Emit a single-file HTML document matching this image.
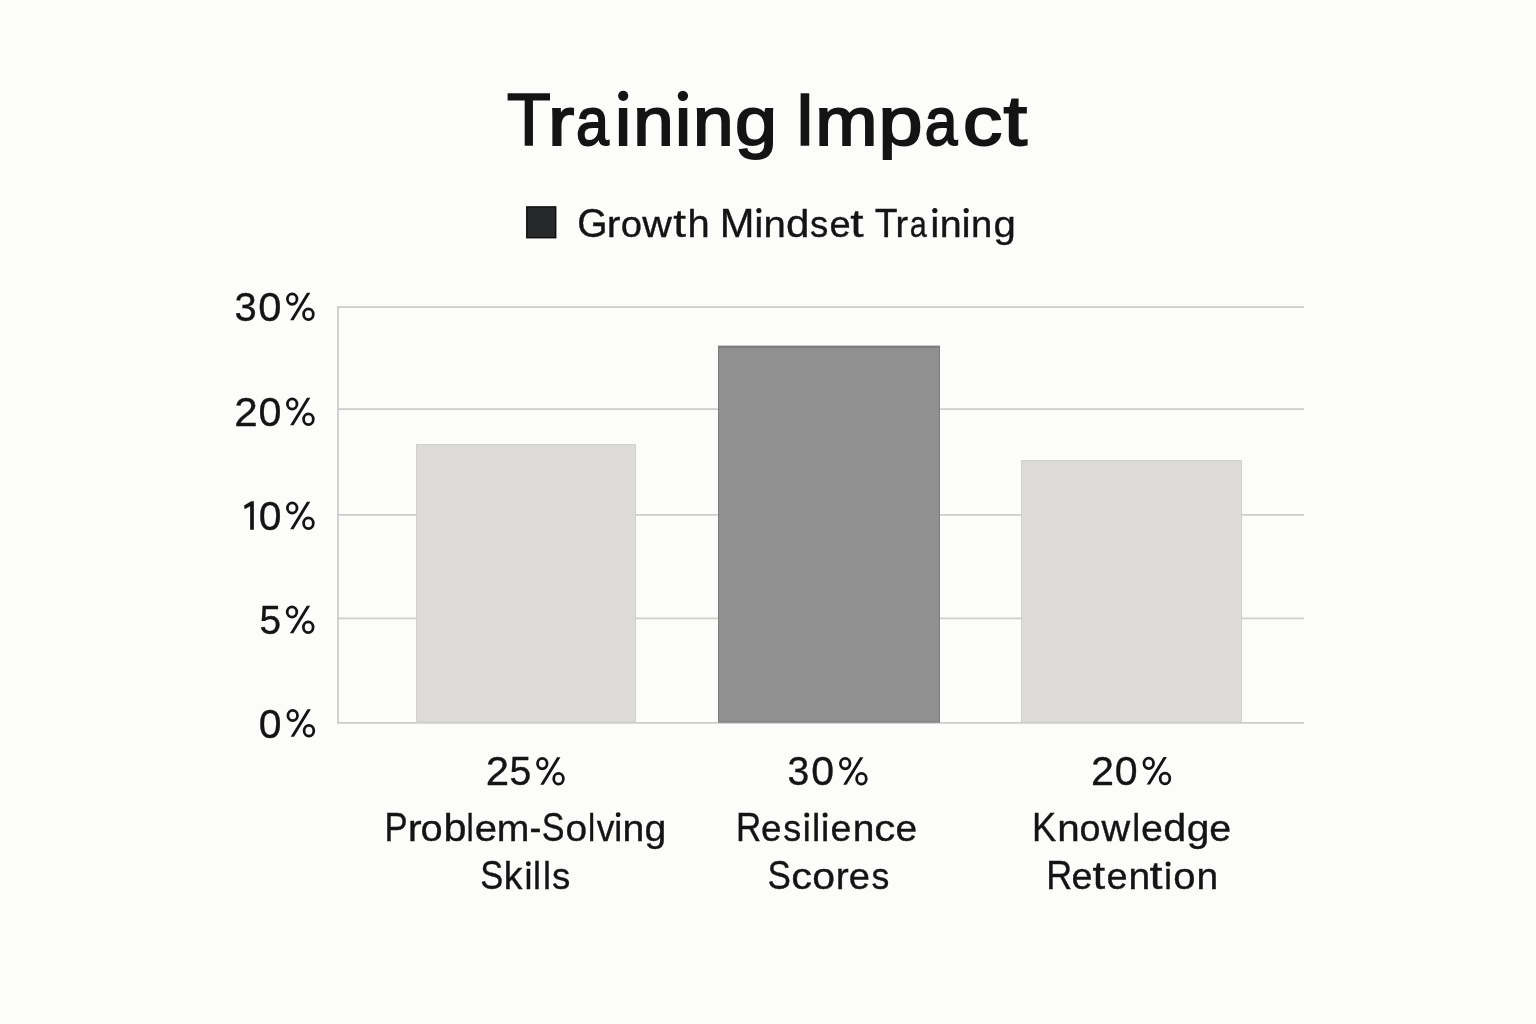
<!DOCTYPE html>
<html><head><meta charset="utf-8"><title>Training Impact</title>
<style>
html,body{margin:0;padding:0;background:#fcfcfa;}
body{width:1536px;height:1024px;overflow:hidden;}
svg{display:block;will-change:transform;}
text{font-family:"Liberation Sans",sans-serif;fill:#141414;}
</style></head><body>
<svg width="1536" height="1024" viewBox="0 0 1536 1024">
<rect x="0" y="0" width="1536" height="1024" fill="#fcfcfa"/>
<rect x="526.8" y="206.9" width="28.9" height="30.8" fill="#272829" stroke="#0b0b0b" stroke-width="1.4"/>
<g stroke="#cdcdcc" stroke-width="1.8">
<line x1="337" y1="307.2" x2="1304" y2="307.2"/>
<line x1="337" y1="409.05" x2="1304" y2="409.05"/>
<line x1="337" y1="514.95" x2="1304" y2="514.95"/>
<line x1="337" y1="618.4" x2="1304" y2="618.4"/>
<line x1="337" y1="722.95" x2="1304" y2="722.95"/>
<line x1="338" y1="306.3" x2="338" y2="723.85"/>
</g>
<rect x="416" y="444" width="220" height="278.2" fill="#dcdbda"/>
<rect x="416.5" y="444.5" width="219" height="277.2" fill="none" stroke="#d1d1d0" stroke-width="1"/>
<rect x="718" y="345.8" width="222" height="376.6" fill="#909090"/>
<rect x="718.5" y="346.5" width="221" height="375.5" fill="none" stroke="#7c7c7c" stroke-width="1"/>
<line x1="718" y1="346.8" x2="940" y2="346.8" stroke="#7b7b7b" stroke-width="2"/>
<rect x="1021" y="460" width="221" height="262.2" fill="#dcdbda"/>
<rect x="1021.5" y="460.5" width="220" height="261.2" fill="none" stroke="#d1d1d0" stroke-width="1"/>
<text x="506.68" y="144.90" font-size="74.4" stroke="#141414" stroke-width="1.6" textLength="44.18" lengthAdjust="spacingAndGlyphs">T</text>
<text x="548.12" y="144.90" font-size="67.8" stroke="#141414" stroke-width="1.9" textLength="26.24" lengthAdjust="spacingAndGlyphs">r</text>
<text x="576.04" y="144.90" font-size="67.8" stroke="#141414" stroke-width="1.9" textLength="32.91" lengthAdjust="spacingAndGlyphs">a</text>
<text x="613.05" y="144.90" font-size="67.8" stroke="#141414" stroke-width="1.9" textLength="20.23" lengthAdjust="spacingAndGlyphs">ı</text>
<text x="633.32" y="144.90" font-size="67.8" stroke="#141414" stroke-width="1.9" textLength="40.45" lengthAdjust="spacingAndGlyphs">n</text>
<text x="672.95" y="144.90" font-size="67.8" stroke="#141414" stroke-width="1.9" textLength="20.23" lengthAdjust="spacingAndGlyphs">ı</text>
<text x="693.10" y="144.90" font-size="67.8" stroke="#141414" stroke-width="1.9" textLength="40.59" lengthAdjust="spacingAndGlyphs">n</text>
<text x="734.98" y="144.90" font-size="67.8" stroke="#141414" stroke-width="1.9" textLength="42.05" lengthAdjust="spacingAndGlyphs">g</text>
<text x="794.47" y="144.90" font-size="74.4" stroke="#141414" stroke-width="1.6" textLength="20.85" lengthAdjust="spacingAndGlyphs">I</text>
<text x="815.18" y="144.90" font-size="67.8" stroke="#141414" stroke-width="1.9" textLength="62.30" lengthAdjust="spacingAndGlyphs">m</text>
<text x="878.55" y="144.90" font-size="67.8" stroke="#141414" stroke-width="1.9" textLength="44.03" lengthAdjust="spacingAndGlyphs">p</text>
<text x="924.71" y="144.90" font-size="67.8" stroke="#141414" stroke-width="1.9" textLength="32.64" lengthAdjust="spacingAndGlyphs">a</text>
<text x="962.92" y="144.90" font-size="67.8" stroke="#141414" stroke-width="1.9" textLength="39.20" lengthAdjust="spacingAndGlyphs">c</text>
<text x="1003.56" y="144.90" font-size="69.8" stroke="#141414" stroke-width="1.9" textLength="23.61" lengthAdjust="spacingAndGlyphs">t</text>
<circle cx="623.2" cy="95.85" r="5.1" fill="#141414"/>
<circle cx="682.9" cy="95.85" r="5.2" fill="#141414"/>
<text x="234.45" y="321.00" font-size="41.50" stroke="#141414" stroke-width="0.35" textLength="22.23" lengthAdjust="spacingAndGlyphs">3</text>
<text x="258.34" y="321.00" font-size="41.50" stroke="#141414" stroke-width="0.35" textLength="23.21" lengthAdjust="spacingAndGlyphs">0</text>
<text x="234.35" y="426.00" font-size="41.50" stroke="#141414" stroke-width="0.35" textLength="23.50" lengthAdjust="spacingAndGlyphs">2</text>
<text x="258.56" y="426.00" font-size="41.50" stroke="#141414" stroke-width="0.35" textLength="22.98" lengthAdjust="spacingAndGlyphs">0</text>
<text x="258.68" y="530.00" font-size="41.50" stroke="#141414" stroke-width="0.35" textLength="22.75" lengthAdjust="spacingAndGlyphs">0</text>
<text x="259.52" y="634.00" font-size="41.50" stroke="#141414" stroke-width="0.35" textLength="21.64" lengthAdjust="spacingAndGlyphs">5</text>
<text x="258.68" y="737.50" font-size="41.50" stroke="#141414" stroke-width="0.35" textLength="22.75" lengthAdjust="spacingAndGlyphs">0</text>
<text x="485.76" y="785.30" font-size="41.50" stroke="#141414" stroke-width="0.35" textLength="23.38" lengthAdjust="spacingAndGlyphs">2</text>
<text x="509.50" y="785.30" font-size="41.50" stroke="#141414" stroke-width="0.35" textLength="21.88" lengthAdjust="spacingAndGlyphs">5</text>
<text x="787.58" y="785.30" font-size="41.50" stroke="#141414" stroke-width="0.35" textLength="21.76" lengthAdjust="spacingAndGlyphs">3</text>
<text x="811.27" y="785.30" font-size="41.50" stroke="#141414" stroke-width="0.35" textLength="22.86" lengthAdjust="spacingAndGlyphs">0</text>
<text x="1090.99" y="785.30" font-size="41.50" stroke="#141414" stroke-width="0.35" textLength="23.01" lengthAdjust="spacingAndGlyphs">2</text>
<text x="1114.67" y="785.30" font-size="41.50" stroke="#141414" stroke-width="0.35" textLength="22.86" lengthAdjust="spacingAndGlyphs">0</text>
<text x="384.43" y="841.10" font-size="41.00" stroke="#141414" stroke-width="0.35" textLength="23.12" lengthAdjust="spacingAndGlyphs">P</text>
<text x="407.70" y="841.10" font-size="37.00" stroke="#141414" stroke-width="0.35" textLength="13.92" lengthAdjust="spacingAndGlyphs">r</text>
<text x="420.51" y="841.10" font-size="37.00" stroke="#141414" stroke-width="0.35" textLength="22.09" lengthAdjust="spacingAndGlyphs">o</text>
<text x="443.50" y="841.10" font-size="38.40" stroke="#141414" stroke-width="0.35" textLength="23.06" lengthAdjust="spacingAndGlyphs">b</text>
<text x="466.59" y="841.10" font-size="38.40" stroke="#141414" stroke-width="0.35" textLength="7.20" lengthAdjust="spacingAndGlyphs">l</text>
<text x="474.68" y="841.10" font-size="37.00" stroke="#141414" stroke-width="0.35" textLength="22.22" lengthAdjust="spacingAndGlyphs">e</text>
<text x="496.77" y="841.10" font-size="37.00" stroke="#141414" stroke-width="0.35" textLength="32.63" lengthAdjust="spacingAndGlyphs">m</text>
<text x="529.48" y="841.10" font-size="41.00" stroke="#141414" stroke-width="0.35" textLength="11.94" lengthAdjust="spacingAndGlyphs">-</text>
<text x="541.83" y="841.10" font-size="41.00" stroke="#141414" stroke-width="0.35" textLength="22.77" lengthAdjust="spacingAndGlyphs">S</text>
<text x="565.44" y="841.10" font-size="37.00" stroke="#141414" stroke-width="0.35" textLength="21.61" lengthAdjust="spacingAndGlyphs">o</text>
<text x="587.89" y="841.10" font-size="38.40" stroke="#141414" stroke-width="0.35" textLength="7.20" lengthAdjust="spacingAndGlyphs">l</text>
<text x="596.75" y="841.10" font-size="37.00" stroke="#141414" stroke-width="0.35" textLength="17.69" lengthAdjust="spacingAndGlyphs">v</text>
<text x="613.18" y="841.10" font-size="37.00" stroke="#141414" stroke-width="0.35" textLength="9.96" lengthAdjust="spacingAndGlyphs">ı</text>
<text x="622.57" y="841.10" font-size="37.00" stroke="#141414" stroke-width="0.35" textLength="21.80" lengthAdjust="spacingAndGlyphs">n</text>
<text x="644.53" y="841.10" font-size="37.00" stroke="#141414" stroke-width="0.35" textLength="21.83" lengthAdjust="spacingAndGlyphs">g</text>
<circle cx="618.15" cy="814.80" r="2.45" fill="#141414"/>
<text x="480.31" y="889.30" font-size="41.00" stroke="#141414" stroke-width="0.35" textLength="23.00" lengthAdjust="spacingAndGlyphs">S</text>
<text x="503.75" y="889.30" font-size="38.40" stroke="#141414" stroke-width="0.35" textLength="18.72" lengthAdjust="spacingAndGlyphs">k</text>
<text x="523.38" y="889.30" font-size="37.00" stroke="#141414" stroke-width="0.35" textLength="9.96" lengthAdjust="spacingAndGlyphs">ı</text>
<text x="532.96" y="889.30" font-size="38.40" stroke="#141414" stroke-width="0.35" textLength="7.96" lengthAdjust="spacingAndGlyphs">l</text>
<text x="542.96" y="889.30" font-size="38.40" stroke="#141414" stroke-width="0.35" textLength="7.96" lengthAdjust="spacingAndGlyphs">l</text>
<text x="551.96" y="889.30" font-size="37.00" stroke="#141414" stroke-width="0.35" textLength="18.29" lengthAdjust="spacingAndGlyphs">s</text>
<circle cx="528.35" cy="863.70" r="2.45" fill="#141414"/>
<text x="735.91" y="841.10" font-size="41.00" stroke="#141414" stroke-width="0.35" textLength="25.24" lengthAdjust="spacingAndGlyphs">R</text>
<text x="760.91" y="841.10" font-size="37.00" stroke="#141414" stroke-width="0.35" textLength="20.45" lengthAdjust="spacingAndGlyphs">e</text>
<text x="783.28" y="841.10" font-size="37.00" stroke="#141414" stroke-width="0.35" textLength="17.95" lengthAdjust="spacingAndGlyphs">s</text>
<text x="801.78" y="841.10" font-size="37.00" stroke="#141414" stroke-width="0.35" textLength="9.96" lengthAdjust="spacingAndGlyphs">ı</text>
<text x="811.98" y="841.10" font-size="38.40" stroke="#141414" stroke-width="0.35" textLength="8.22" lengthAdjust="spacingAndGlyphs">l</text>
<text x="819.97" y="841.10" font-size="37.00" stroke="#141414" stroke-width="0.35" textLength="10.27" lengthAdjust="spacingAndGlyphs">ı</text>
<text x="830.59" y="841.10" font-size="37.00" stroke="#141414" stroke-width="0.35" textLength="20.80" lengthAdjust="spacingAndGlyphs">e</text>
<text x="852.79" y="841.10" font-size="37.00" stroke="#141414" stroke-width="0.35" textLength="21.67" lengthAdjust="spacingAndGlyphs">n</text>
<text x="874.39" y="841.10" font-size="37.00" stroke="#141414" stroke-width="0.35" textLength="21.05" lengthAdjust="spacingAndGlyphs">c</text>
<text x="895.62" y="841.10" font-size="37.00" stroke="#141414" stroke-width="0.35" textLength="21.63" lengthAdjust="spacingAndGlyphs">e</text>
<circle cx="806.75" cy="814.95" r="2.50" fill="#141414"/>
<circle cx="825.10" cy="814.95" r="2.50" fill="#141414"/>
<text x="767.49" y="889.30" font-size="41.00" stroke="#141414" stroke-width="0.35" textLength="23.35" lengthAdjust="spacingAndGlyphs">S</text>
<text x="791.22" y="889.30" font-size="37.00" stroke="#141414" stroke-width="0.35" textLength="20.70" lengthAdjust="spacingAndGlyphs">c</text>
<text x="812.35" y="889.30" font-size="37.00" stroke="#141414" stroke-width="0.35" textLength="22.79" lengthAdjust="spacingAndGlyphs">o</text>
<text x="835.69" y="889.30" font-size="37.00" stroke="#141414" stroke-width="0.35" textLength="12.99" lengthAdjust="spacingAndGlyphs">r</text>
<text x="848.86" y="889.30" font-size="37.00" stroke="#141414" stroke-width="0.35" textLength="21.16" lengthAdjust="spacingAndGlyphs">e</text>
<text x="871.48" y="889.30" font-size="37.00" stroke="#141414" stroke-width="0.35" textLength="17.83" lengthAdjust="spacingAndGlyphs">s</text>
<text x="1031.99" y="841.10" font-size="41.00" stroke="#141414" stroke-width="0.35" textLength="24.24" lengthAdjust="spacingAndGlyphs">K</text>
<text x="1057.19" y="841.10" font-size="37.00" stroke="#141414" stroke-width="0.35" textLength="22.45" lengthAdjust="spacingAndGlyphs">n</text>
<text x="1079.50" y="841.10" font-size="37.00" stroke="#141414" stroke-width="0.35" textLength="20.91" lengthAdjust="spacingAndGlyphs">o</text>
<text x="1101.63" y="841.10" font-size="37.00" stroke="#141414" stroke-width="0.35" textLength="28.69" lengthAdjust="spacingAndGlyphs">w</text>
<text x="1132.16" y="841.10" font-size="38.40" stroke="#141414" stroke-width="0.35" textLength="7.96" lengthAdjust="spacingAndGlyphs">l</text>
<text x="1140.90" y="841.10" font-size="37.00" stroke="#141414" stroke-width="0.35" textLength="21.87" lengthAdjust="spacingAndGlyphs">e</text>
<text x="1163.33" y="841.10" font-size="38.40" stroke="#141414" stroke-width="0.35" textLength="23.06" lengthAdjust="spacingAndGlyphs">d</text>
<text x="1186.66" y="841.10" font-size="37.00" stroke="#141414" stroke-width="0.35" textLength="22.69" lengthAdjust="spacingAndGlyphs">g</text>
<text x="1209.20" y="841.10" font-size="37.00" stroke="#141414" stroke-width="0.35" textLength="21.87" lengthAdjust="spacingAndGlyphs">e</text>
<text x="1046.33" y="889.30" font-size="41.00" stroke="#141414" stroke-width="0.35" textLength="25.97" lengthAdjust="spacingAndGlyphs">R</text>
<text x="1071.58" y="889.30" font-size="37.00" stroke="#141414" stroke-width="0.35" textLength="20.92" lengthAdjust="spacingAndGlyphs">e</text>
<text x="1092.48" y="889.30" font-size="38.40" stroke="#141414" stroke-width="0.35" textLength="12.67" lengthAdjust="spacingAndGlyphs">t</text>
<text x="1106.57" y="889.30" font-size="37.00" stroke="#141414" stroke-width="0.35" textLength="21.04" lengthAdjust="spacingAndGlyphs">e</text>
<text x="1128.49" y="889.30" font-size="37.00" stroke="#141414" stroke-width="0.35" textLength="21.67" lengthAdjust="spacingAndGlyphs">n</text>
<text x="1149.57" y="889.30" font-size="38.40" stroke="#141414" stroke-width="0.35" textLength="13.00" lengthAdjust="spacingAndGlyphs">t</text>
<text x="1163.29" y="889.30" font-size="37.00" stroke="#141414" stroke-width="0.35" textLength="9.64" lengthAdjust="spacingAndGlyphs">ı</text>
<text x="1173.30" y="889.30" font-size="37.00" stroke="#141414" stroke-width="0.35" textLength="22.20" lengthAdjust="spacingAndGlyphs">o</text>
<text x="1196.49" y="889.30" font-size="37.00" stroke="#141414" stroke-width="0.35" textLength="21.67" lengthAdjust="spacingAndGlyphs">n</text>
<circle cx="1168.10" cy="863.90" r="2.50" fill="#141414"/>
<text x="577.31" y="237.00" font-size="41.00" stroke="#141414" stroke-width="0.35" textLength="30.32" lengthAdjust="spacingAndGlyphs">G</text>
<text x="606.65" y="237.00" font-size="37.00" stroke="#141414" stroke-width="0.35" textLength="13.65" lengthAdjust="spacingAndGlyphs">r</text>
<text x="620.77" y="237.00" font-size="37.00" stroke="#141414" stroke-width="0.35" textLength="21.26" lengthAdjust="spacingAndGlyphs">o</text>
<text x="642.24" y="237.00" font-size="37.00" stroke="#141414" stroke-width="0.35" textLength="29.59" lengthAdjust="spacingAndGlyphs">w</text>
<text x="673.38" y="237.00" font-size="38.40" stroke="#141414" stroke-width="0.35" textLength="12.78" lengthAdjust="spacingAndGlyphs">t</text>
<text x="687.41" y="237.00" font-size="38.40" stroke="#141414" stroke-width="0.35" textLength="22.21" lengthAdjust="spacingAndGlyphs">h</text>
<text x="719.66" y="237.00" font-size="41.00" stroke="#141414" stroke-width="0.35" textLength="34.68" lengthAdjust="spacingAndGlyphs">M</text>
<text x="753.35" y="237.00" font-size="37.00" stroke="#141414" stroke-width="0.35" textLength="11.22" lengthAdjust="spacingAndGlyphs">ı</text>
<text x="763.51" y="237.00" font-size="37.00" stroke="#141414" stroke-width="0.35" textLength="22.32" lengthAdjust="spacingAndGlyphs">n</text>
<text x="786.11" y="237.00" font-size="38.40" stroke="#141414" stroke-width="0.35" textLength="23.44" lengthAdjust="spacingAndGlyphs">d</text>
<text x="810.06" y="237.00" font-size="37.00" stroke="#141414" stroke-width="0.35" textLength="18.29" lengthAdjust="spacingAndGlyphs">s</text>
<text x="829.56" y="237.00" font-size="37.00" stroke="#141414" stroke-width="0.35" textLength="21.16" lengthAdjust="spacingAndGlyphs">e</text>
<text x="850.15" y="237.00" font-size="38.40" stroke="#141414" stroke-width="0.35" textLength="13.33" lengthAdjust="spacingAndGlyphs">t</text>
<text x="874.73" y="237.00" font-size="41.00" stroke="#141414" stroke-width="0.35" textLength="22.85" lengthAdjust="spacingAndGlyphs">T</text>
<text x="895.46" y="237.00" font-size="37.00" stroke="#141414" stroke-width="0.35" textLength="12.59" lengthAdjust="spacingAndGlyphs">r</text>
<text x="909.87" y="237.00" font-size="37.00" stroke="#141414" stroke-width="0.35" textLength="17.05" lengthAdjust="spacingAndGlyphs">a</text>
<text x="929.25" y="237.00" font-size="37.00" stroke="#141414" stroke-width="0.35" textLength="11.22" lengthAdjust="spacingAndGlyphs">ı</text>
<text x="939.86" y="237.00" font-size="37.00" stroke="#141414" stroke-width="0.35" textLength="21.93" lengthAdjust="spacingAndGlyphs">n</text>
<text x="960.60" y="237.00" font-size="37.00" stroke="#141414" stroke-width="0.35" textLength="11.22" lengthAdjust="spacingAndGlyphs">ı</text>
<text x="971.13" y="237.00" font-size="37.00" stroke="#141414" stroke-width="0.35" textLength="21.27" lengthAdjust="spacingAndGlyphs">n</text>
<text x="993.49" y="237.00" font-size="37.00" stroke="#141414" stroke-width="0.35" textLength="22.32" lengthAdjust="spacingAndGlyphs">g</text>
<circle cx="758.90" cy="210.60" r="2.60" fill="#141414"/>
<circle cx="934.85" cy="210.60" r="2.60" fill="#141414"/>
<circle cx="966.20" cy="210.60" r="2.60" fill="#141414"/>
<ellipse cx="292.20" cy="299.10" rx="4.8" ry="5.2" fill="none" stroke="#141414" stroke-width="2.75"/><ellipse cx="308.45" cy="314.30" rx="4.85" ry="5.35" fill="none" stroke="#141414" stroke-width="2.75"/><polygon points="306.95,292.80 310.35,292.80 293.55,320.30 290.15,320.30" fill="#141414"/>
<ellipse cx="292.20" cy="404.00" rx="4.8" ry="5.2" fill="none" stroke="#141414" stroke-width="2.75"/><ellipse cx="308.45" cy="419.20" rx="4.85" ry="5.35" fill="none" stroke="#141414" stroke-width="2.75"/><polygon points="306.95,397.70 310.35,397.70 293.55,425.20 290.15,425.20" fill="#141414"/>
<ellipse cx="292.20" cy="508.00" rx="4.8" ry="5.2" fill="none" stroke="#141414" stroke-width="2.75"/><ellipse cx="308.45" cy="523.20" rx="4.85" ry="5.35" fill="none" stroke="#141414" stroke-width="2.75"/><polygon points="306.95,501.70 310.35,501.70 293.55,529.20 290.15,529.20" fill="#141414"/>
<ellipse cx="292.00" cy="612.00" rx="4.8" ry="5.2" fill="none" stroke="#141414" stroke-width="2.75"/><ellipse cx="308.25" cy="627.20" rx="4.85" ry="5.35" fill="none" stroke="#141414" stroke-width="2.75"/><polygon points="306.75,605.70 310.15,605.70 293.35,633.20 289.95,633.20" fill="#141414"/>
<ellipse cx="292.70" cy="715.50" rx="4.8" ry="5.2" fill="none" stroke="#141414" stroke-width="2.75"/><ellipse cx="308.95" cy="730.70" rx="4.85" ry="5.35" fill="none" stroke="#141414" stroke-width="2.75"/><polygon points="307.45,709.20 310.85,709.20 294.05,736.70 290.65,736.70" fill="#141414"/>
<ellipse cx="542.30" cy="763.60" rx="4.8" ry="5.2" fill="none" stroke="#141414" stroke-width="2.75"/><ellipse cx="558.55" cy="778.80" rx="4.85" ry="5.35" fill="none" stroke="#141414" stroke-width="2.75"/><polygon points="557.05,757.30 560.45,757.30 543.65,784.80 540.25,784.80" fill="#141414"/>
<ellipse cx="845.20" cy="763.60" rx="4.8" ry="5.2" fill="none" stroke="#141414" stroke-width="2.75"/><ellipse cx="861.45" cy="778.80" rx="4.85" ry="5.35" fill="none" stroke="#141414" stroke-width="2.75"/><polygon points="859.95,757.30 863.35,757.30 846.55,784.80 843.15,784.80" fill="#141414"/>
<ellipse cx="1148.75" cy="763.30" rx="4.8" ry="5.2" fill="none" stroke="#141414" stroke-width="2.75"/><ellipse cx="1165.00" cy="778.50" rx="4.85" ry="5.35" fill="none" stroke="#141414" stroke-width="2.75"/><polygon points="1163.50,757.00 1166.90,757.00 1150.10,784.50 1146.70,784.50" fill="#141414"/>
<polygon points="251.2,501.3 253.85,501.3 253.85,529.75 250.15,529.75 250.15,506.3 244.6,509.2 244.1,505.5" fill="#141414"/>
</svg>
</body></html>
